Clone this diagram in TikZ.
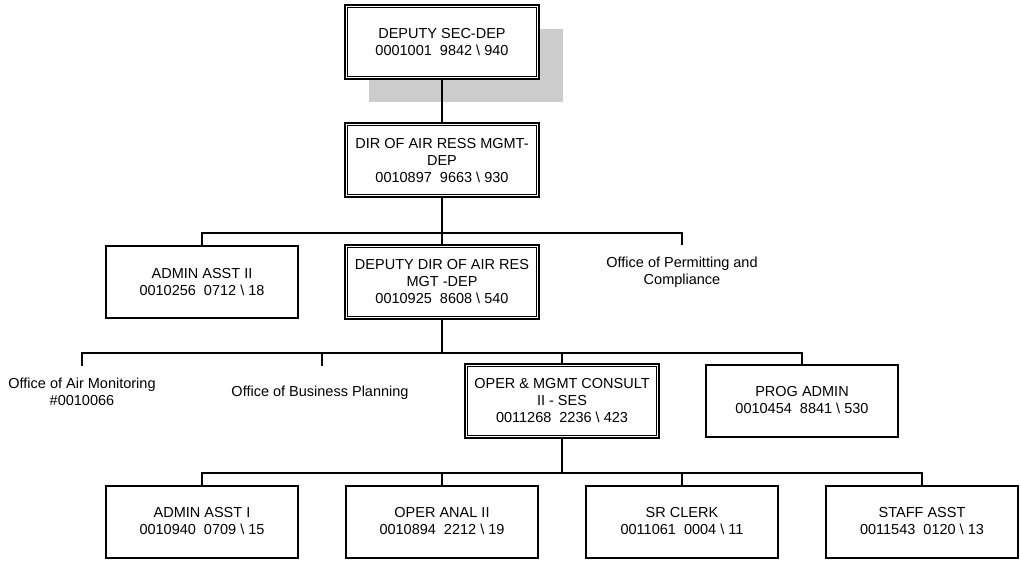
\documentclass[tikz,border=0pt]{standalone}
\usepackage{fontspec}
\setmainfont{Liberation Sans}
\usetikzlibrary{positioning}
\definecolor{shadowgray}{RGB}{204,204,204}
\tikzset{
    posbox/.style={
        draw,
        line width=2pt,
        fill=white,
        minimum width=192pt,
        minimum height=72pt,
        align=center,
        inner sep=2pt,
        font=\fontsize{14.5}{17}\selectfont
    },
    % boxes with the double frame
    headbox/.style={
        posbox,
        minimum width=194pt,
        minimum height=74pt
    },
    unitlabel/.style={
        align=center,
        font=\fontsize{14.5}{17}\selectfont
    },
    orgline/.style={
        line width=2pt,
        black
    }
}

\begin{document}
\begin{tikzpicture}[x=1pt, y=-1pt]
        \useasboundingbox (0,0) rectangle (1020,561);
        \fill[shadowgray] (369,29) rectangle (563,102);

        % boxes
        \node[headbox] (dsec) at (442,42.5) {DEPUTY SEC-DEP\\0001001\ \ 9842 \textbackslash\ 940};
        \node[headbox] (dir) at (442,160.5) {DIR OF AIR RESS MGMT-\\DEP\\0010897\ \ 9663 \textbackslash\ 930};
        \node[posbox] (aa2) at (202,282) {ADMIN ASST II\\0010256\ \ 0712 \textbackslash\ 18};
        \node[headbox] (ddir) at (442,282) {DEPUTY DIR OF AIR RES\\MGT -DEP\\0010925\ \ 8608 \textbackslash\ 540};
        \node[unitlabel] (perm) at (682,272.5) {Office of Permitting and\\Compliance};

        \node[unitlabel] (airmon) at (82,392) {Office of Air Monitoring\\\#0010066};
        \node[unitlabel] (bizplan) at (320,393) {Office of Business Planning};
        \node[headbox] (oper) at (562,401) {OPER \& MGMT CONSULT\\II - SES\\0011268\ \ 2236 \textbackslash\ 423};
        \node[posbox] (prog) at (802,400.5) {PROG ADMIN\\0010454\ \ 8841 \textbackslash\ 530};

        \node[posbox] (aa1) at (202,521.5) {ADMIN ASST I\\0010940\ \ 0709 \textbackslash\ 15};
        \node[posbox] (opanal) at (442,521.5) {OPER ANAL II\\0010894\ \ 2212 \textbackslash\ 19};
        \node[posbox] (srclerk) at (682,521.5) {SR CLERK\\0011061\ \ 0004 \textbackslash\ 11};
        \node[posbox] (staff) at (922,521.5) {STAFF ASST\\0011543\ \ 0120 \textbackslash\ 13};

        % inner frame of the double boxes
        \foreach \n in {dsec,dir,ddir,oper}
            \draw[line width=1pt] ([shift={(3.5pt,-3.5pt)}]\n.north west) rectangle ([shift={(-3.5pt,3.5pt)}]\n.south east);

        % first level
        \coordinate (busa) at (442,233);
        \coordinate (permtop) at (682,245);
        \draw[orgline] (dsec.south) -- (dir.north);
        \draw[orgline] (dir.south) -- (busa);
        \draw[orgline] (busa) -| (aa2.north);
        \draw[orgline] (busa) -| (permtop);
        \draw[orgline] (busa) -- (ddir.north);

        % second level
        \coordinate (busb) at (442,353);
        \coordinate (airtop) at (82,366);
        \coordinate (biztop) at (322,366);
        \draw[orgline] (ddir.south) -- (busb);
        \draw[orgline] (busb) -| (airtop);
        \draw[orgline] (busb) -| (biztop);
        \draw[orgline] (busb) -| (oper.north);
        \draw[orgline] (busb) -| (prog.north);

        % third level
        \coordinate (busc) at (562,473);
        \draw[orgline] (oper.south) -- (busc);
        \foreach \n in {aa1,opanal,srclerk,staff}
            \draw[orgline] (busc) -| (\n.north);
\end{tikzpicture}
\end{document}
